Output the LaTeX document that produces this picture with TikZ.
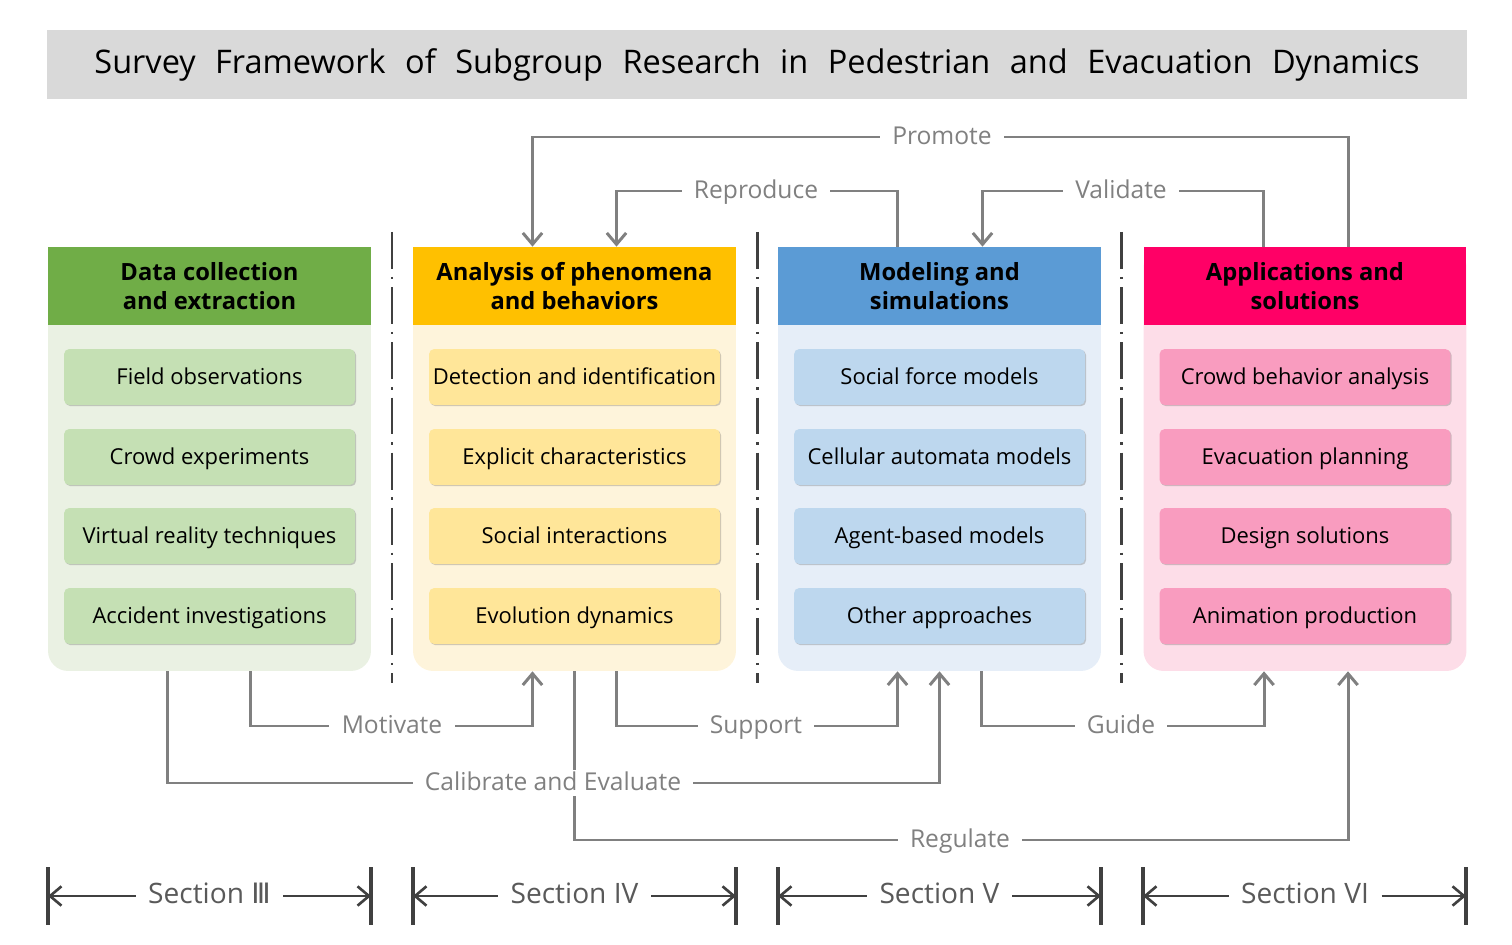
\documentclass[tikz,border=0pt]{standalone}
\usepackage{fontspec}
\setmainfont{Open Sans}
\newfontfamily\symfont{DejaVu Sans}
\usetikzlibrary{arrows.meta,positioning,calc,shadows,backgrounds}
\definecolor{titlegray}{HTML}{D9D9D9}
\definecolor{linkgray}{HTML}{808080}
\definecolor{darkgray}{HTML}{404040}
\definecolor{secgray}{HTML}{595959}
\definecolor{hdgreen}{HTML}{70AD47}
\definecolor{bdgreen}{HTML}{EAF1E3}
\definecolor{itgreen}{HTML}{C5E0B4}
\definecolor{hdyellow}{HTML}{FFC000}
\definecolor{bdyellow}{HTML}{FEF4DB}
\definecolor{ityellow}{HTML}{FFE699}
\definecolor{hdblue}{HTML}{5B9BD5}
\definecolor{bdblue}{HTML}{E6EEF8}
\definecolor{itblue}{HTML}{BDD7EE}
\definecolor{hdpink}{HTML}{FF0066}
\definecolor{bdpink}{HTML}{FDDDE8}
\definecolor{itpink}{HTML}{F99CBF}
\newcommand\widespace{\spaceskip=0.6em\relax}
\tikzset{
  header/.style={minimum width=6.46cm, minimum height=1.56cm, inner sep=0pt, align=center,
    font=\fontsize{13.5}{16.4}\selectfont\bfseries},
  colbody/.style={rounded corners=0.4cm, minimum width=6.46cm, minimum height=8.48cm, inner sep=0pt},
  item/.style={rounded corners=3pt, minimum width=5.82cm, minimum height=1.12cm, inner sep=0pt,
    text height=1.85ex, text depth=0.2ex, font=\fontsize{12.5}{15}\selectfont,
    drop shadow={shadow xshift=0.7pt, shadow yshift=-0.7pt, opacity=0.18, fill=black}},
  link/.style={draw=linkgray, line width=1.7pt},
  lbl/.style={fill=white, text=linkgray, inner xsep=7pt, inner ysep=2pt,
    text height=1.85ex, text depth=0.2ex, font=\fontsize{14}{17}\selectfont},
  divider/.style={draw=darkgray, line width=1.7pt, dash pattern=on 21pt off 4.5pt on 1.4pt off 4.5pt},
  sectext/.style={text=secgray, inner xsep=7pt, text height=1.85ex, text depth=0.2ex,
    font=\fontsize{16}{19}\selectfont},
  secarrow/.style={draw=darkgray, line width=1.5pt},
  secbar/.style={draw=darkgray, line width=2.2pt}
}
\begin{document}
\begin{tikzpicture}[x=0.02cm, y=-0.02cm, >={Straight Barb[length=6.5pt,width=11pt]}]
\useasboundingbox (0,0) rectangle (1512,945);

% title
\node[fill=titlegray, minimum width=28.4cm, minimum height=1.38cm, inner sep=0pt,
  font=\fontsize{18.5}{22}\selectfont\widespace] (title) at (757,64.5)
  {Survey Framework of Subgroup Research in Pedestrian and Evacuation Dynamics};

% column bodies and headers
\node[colbody, fill=bdgreen] (b1) at (209.5,459) {};
\node[colbody, fill=bdyellow] (b2) at (574.5,459) {};
\node[colbody, fill=bdblue] (b3) at (939.5,459) {};
\node[colbody, fill=bdpink] (b4) at (1305,459) {};
\node[header, fill=hdgreen] (h1) at (209.5,286) {Data collection\\and extraction};
\node[header, fill=hdyellow] (h2) at (574.5,286) {Analysis of phenomena\\and behaviors};
\node[header, fill=hdblue] (h3) at (939.5,286) {Modeling and\\simulations};
\node[header, fill=hdpink] (h4) at (1305,286) {Applications and\\solutions};

% items
\node[item, fill=itgreen] (d1) at (209.5,377) {Field observations};
\node[item, fill=itgreen] (d2) at (209.5,457) {Crowd experiments};
\node[item, fill=itgreen] (d3) at (209.5,536) {Virtual reality techniques};
\node[item, fill=itgreen] (d4) at (209.5,616) {Accident investigations};
\node[item, fill=ityellow] (a1) at (574.5,377) {Detection and identification};
\node[item, fill=ityellow] (a2) at (574.5,457) {Explicit characteristics};
\node[item, fill=ityellow] (a3) at (574.5,536) {Social interactions};
\node[item, fill=ityellow] (a4) at (574.5,616) {Evolution dynamics};
\node[item, fill=itblue] (m1) at (939.5,377) {Social force models};
\node[item, fill=itblue] (m2) at (939.5,457) {Cellular automata models};
\node[item, fill=itblue] (m3) at (939.5,536) {Agent-based models};
\node[item, fill=itblue] (m4) at (939.5,616) {Other approaches};
\node[item, fill=itpink] (p1) at (1305,377) {Crowd behavior analysis};
\node[item, fill=itpink] (p2) at (1305,457) {Evacuation planning};
\node[item, fill=itpink] (p3) at (1305,536) {Design solutions};
\node[item, fill=itpink] (p4) at (1305,616) {Animation production};

% dividers
\coordinate (v1) at (392,232);
\coordinate (v2) at (757,232);
\coordinate (v3) at (1121,232);
\draw[divider] (v1) -- ++(0,451);
\draw[divider] (v2) -- ++(0,451);
\draw[divider] (v3) -- ++(0,451);

% connector labels
\node[lbl] (promote) at (942,137) {Promote};
\node[lbl] (reproduce) at (756,191) {Reproduce};
\node[lbl] (validate) at (1121,191) {Validate};
\node[lbl] (motivate) at (392,726) {Motivate};
\node[lbl] (support) at (756,726) {Support};
\node[lbl] (guide) at (1121,726) {Guide};
\node[lbl] (calib) at (553,783) {Calibrate and Evaluate};
\node[lbl] (regulate) at (960,840) {Regulate};

% connectors
\begin{scope}[on background layer]
\draw[link,->] ($(h4.north)+(43,0)$) |- (promote.center) -| ($(h2.north)+(-42,0)$);
\draw[link,->] ($(h3.north)+(-42,0)$) |- (reproduce.center) -| ($(h2.north)+(42,0)$);
\draw[link,->] ($(h4.north)+(-42,0)$) |- (validate.center) -| ($(h3.north)+(43,0)$);
\draw[link,->] ($(b1.south)+(41,0)$) |- (motivate.center) -| ($(b2.south)+(-42,0)$);
\draw[link,->] ($(b2.south)+(42,0)$) |- (support.center) -| ($(b3.south)+(-42,0)$);
\draw[link,->] ($(b3.south)+(42,0)$) |- (guide.center) -| ($(b4.south)+(-41,0)$);
\draw[link,->] ($(b1.south)+(-42,0)$) |- (calib.center) -| (b3.south);
\draw[link,->] (b2.south) |- (regulate.center) -| ($(b4.south)+(43,0)$);
\end{scope}

% sections
\node[sectext] (sec3) at (209.5,896) {Section {\symfont Ⅲ}};
\node[sectext] (sec4) at (574.5,896) {Section IV};
\node[sectext] (sec5) at (939.5,896) {Section V};
\node[sectext] (sec6) at (1305,896) {Section VI};
\coordinate (s3a) at (48,896);
\coordinate (s3b) at (371,896);
\coordinate (s4a) at (413,896);
\coordinate (s4b) at (736,896);
\coordinate (s5a) at (778,896);
\coordinate (s5b) at (1101,896);
\coordinate (s6a) at (1143,896);
\coordinate (s6b) at (1466,896);
\foreach \s in {3,4,5,6}{
  \draw[secarrow,->] (sec\s) -- (s\s a);
  \draw[secarrow,->] (sec\s) -- (s\s b);
  \draw[secbar] ($(s\s a)+(0,-29)$) -- ($(s\s a)+(0,29)$);
  \draw[secbar] ($(s\s b)+(0,-29)$) -- ($(s\s b)+(0,29)$);
}
\end{tikzpicture}
\end{document}
